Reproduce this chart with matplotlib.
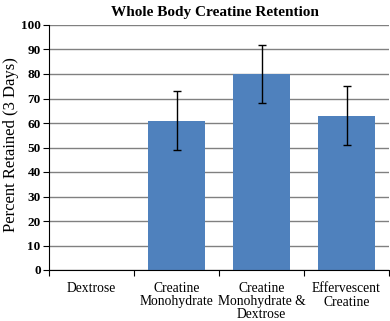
import matplotlib
matplotlib.use('Agg')
import matplotlib.pyplot as plt
import numpy as np

categories = ['Dextrose', 'Creatine\nMonohydrate', 'Creatine\nMonohydrate &\nDextrose',
              'Effervescent\nCreatine']
retained = [0, 61, 80, 63]
err = [0, 12, 12, 12]

plt.rcParams['font.family'] = 'Liberation Serif'

fig = plt.figure(figsize=(3.9, 3.21), dpi=100)
ax = fig.add_axes([49 / 390, 1 - 270 / 321, 340 / 390, 245 / 321])

x = np.arange(len(categories))
ax.bar(x[1:], retained[1:], width=0.67, color='#4F81BD', zorder=2)
ax.errorbar(x[1:], retained[1:], yerr=err[1:], fmt='none', ecolor='black',
            elinewidth=1, capsize=3, capthick=1, zorder=3)

ax.set_xlim(-0.5, 3.5)
ax.set_ylim(0, 100)
ax.set_yticks(range(0, 101, 10))
ax.yaxis.grid(True, color='#808080', linewidth=1, zorder=0)
ax.set_axisbelow(True)

ax.set_xticks(np.arange(-0.5, 4, 1))
ax.set_xticklabels([])
ax.set_xticks(x, minor=True)
ax.set_xticklabels(categories, minor=True, fontsize=9.8, linespacing=1.0)
ax.tick_params(axis='x', which='minor', length=0, pad=9)
ax.tick_params(axis='x', which='major', length=4, direction='out')
ax.tick_params(axis='y', length=4, direction='out', labelsize=9.5, pad=2)
for lbl in ax.get_yticklabels():
    lbl.set_fontweight('bold')

for s in ['top', 'right']:
    ax.spines[s].set_visible(False)
ax.spines['left'].set_color('black')
ax.spines['bottom'].set_color('black')

fig.text(11 / 390, 1 - 145 / 321, 'Percent Retained (3 Days)', rotation=90,
         ha='center', va='center', fontsize=12)
fig.text(0.551, 0.962, 'Whole Body Creatine Retention', ha='center', va='center',
         fontsize=11, fontweight='bold')

fig.savefig('out.png', dpi=100)
